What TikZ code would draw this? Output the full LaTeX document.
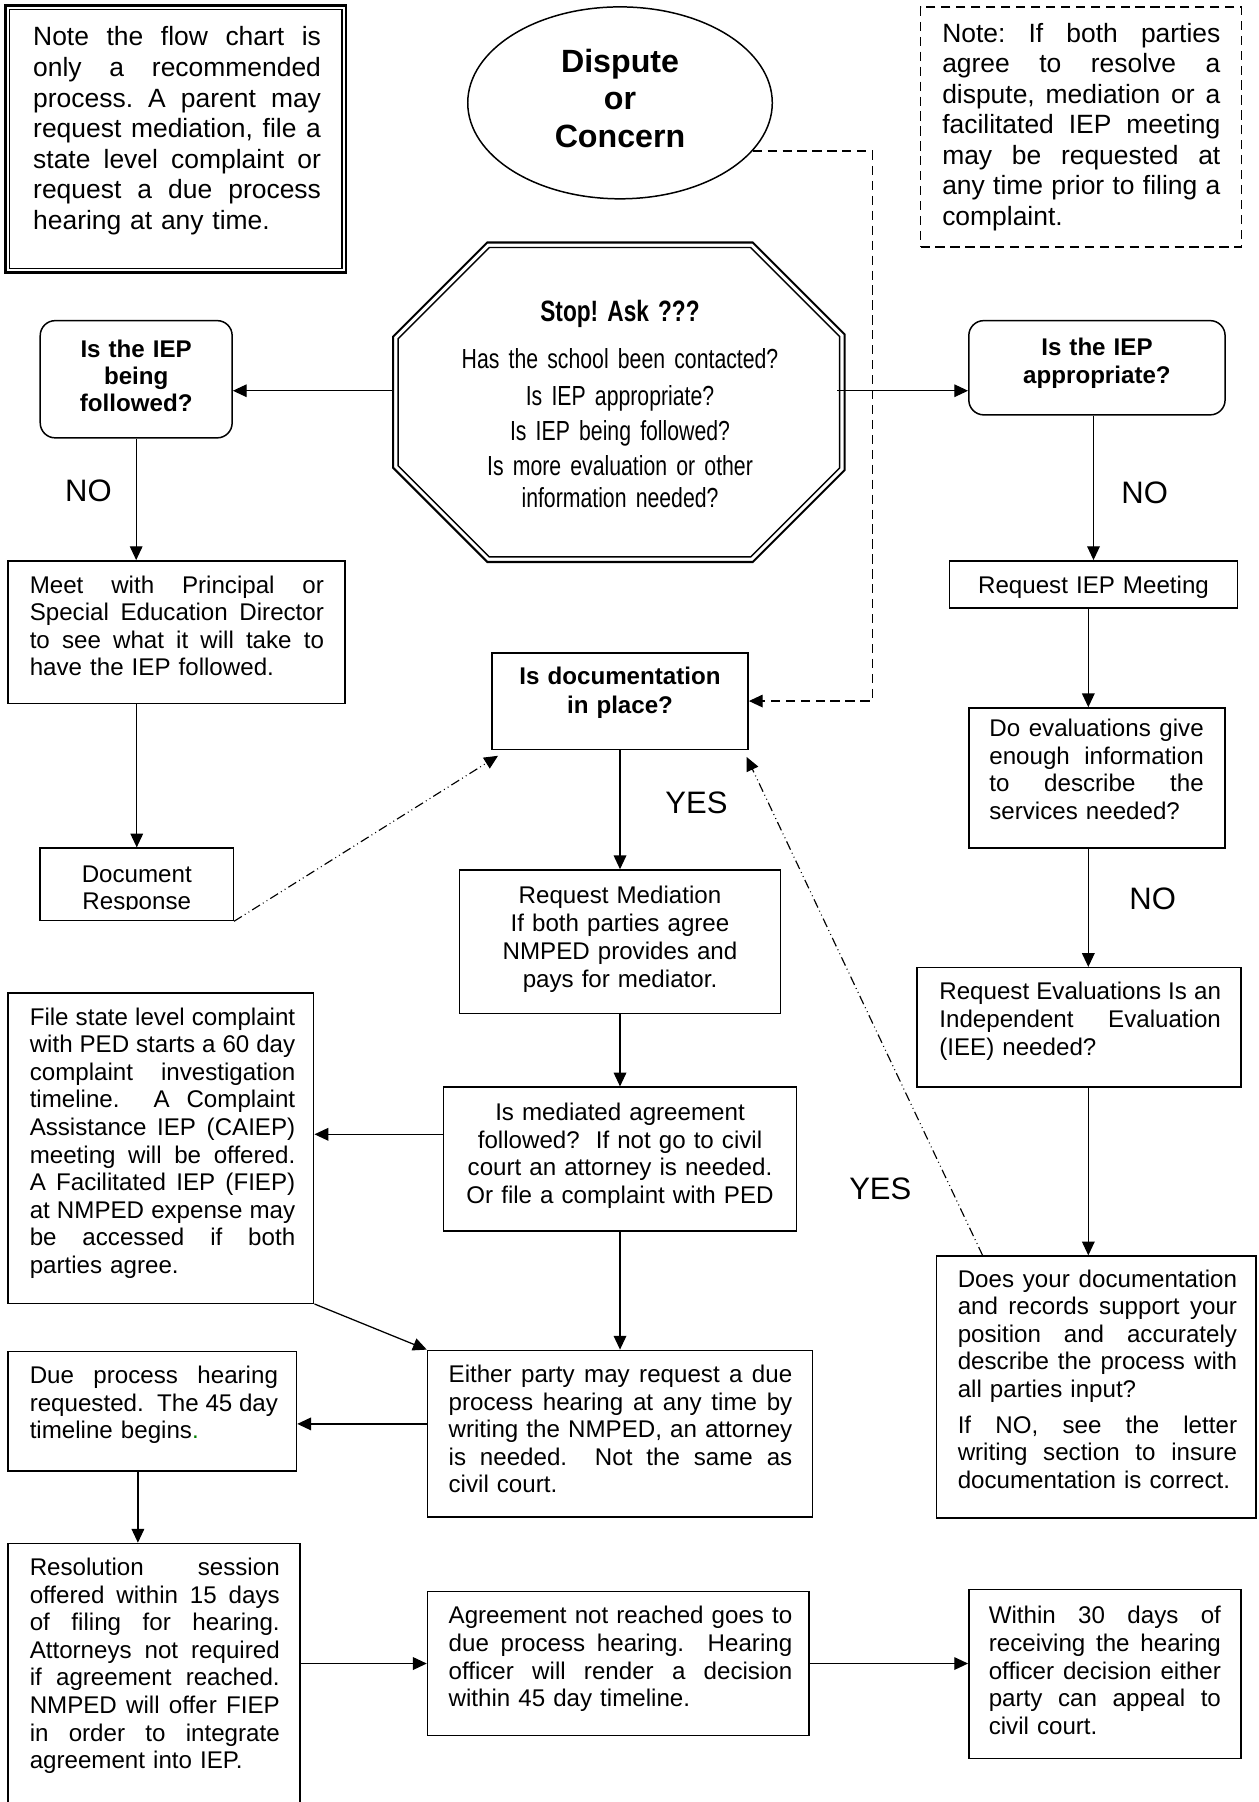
\documentclass[tikz,border=0pt]{standalone}
\usepackage{fontspec}
\setmainfont{Liberation Sans}
\newfontfamily\narrowfont[FakeStretch=0.77]{Liberation Sans}
\usetikzlibrary{arrows.meta,fit,calc,shapes.geometric}
\definecolor{dotgreen}{RGB}{0,128,0}
\def\tw{100pt}
\newcommand{\jl}[1]{\makebox[\tw][s]{\spaceskip=\fontdimen2\font plus 1fil\xspaceskip=\fontdimen2\font plus 1fil\relax #1}}
\begin{document}
\frenchspacing
\begin{tikzpicture}[x=0.5pt,y=-0.5pt,
  box/.style={draw,line width=0.65pt,inner sep=0pt},
  rbox/.style={box,rounded corners=6.5pt},
  arr/.style={line width=0.55pt,-{Triangle[length=6pt,width=5.5pt]}},
  dd/.style={line width=0.5pt,dash pattern=on 4pt off 1.5pt on 0.4pt off 1.5pt on 0.4pt off 1.5pt,-{Triangle[length=6pt,width=5.5pt]}},
  dsh/.style={line width=0.55pt,dash pattern=on 4pt off 2.5pt},
  txt/.style={inner sep=0pt,anchor=base west,font=\fontsize{10.5}{12}\selectfont},
  jt/.style={txt,text width=#1,execute at begin node={\def\tw{#1}}},
  ctxt/.style={inner sep=0pt,anchor=base,align=center,font=\fontsize{10.5}{12}\selectfont},
  lbl/.style={inner sep=0pt,font=\fontsize{13.5}{15}\selectfont}]
\useasboundingbox (0,0) rectangle (1095,1568);
\clip (0,0) rectangle (1095,1568);
\fill[white] (0,0) rectangle (1095,1568);

% ---------- boxes ----------
\node[draw,line width=1.1pt,inner sep=0pt,fit={(5,5) (301,237)}] (notea) {};
\draw[line width=0.5pt] ($(notea.north west)+(4.5,4.5)$) rectangle ($(notea.south east)+(-4.5,-4.5)$);
\node[dsh,draw,inner sep=0pt,fit={(801,6) (1080,215)}] (noteb) {};
\node[ellipse,draw,line width=0.65pt,inner sep=0pt,minimum width=132.5pt,minimum height=83.5pt] (ell) at (539.5,89.5) {};
\node[inner sep=0pt,fit={(342,211) (735,489)}] (stop) {};
\draw[line width=0.9pt] (424,211) -- (655,211) -- (735,291) -- (735,409) -- (655,489) -- (424,489) -- (342,407) -- (342,293) -- cycle;
\draw[line width=0.6pt] (425.8,215.4) -- (653.2,215.4) -- (730.6,292.8) -- (730.6,407.2) -- (653.2,484.6) -- (425.8,484.6) -- (346.4,405.2) -- (346.4,294.8) -- cycle;
\node[rbox,fit={(35,279) (202,381)}] (iepf) {};
\node[rbox,fit={(843,279) (1066,361)}] (iepa) {};
\node[box,fit={(7,488) (300,612)}] (meet) {};
\node[box,fit={(35,738) (203,801)}] (docresp) {};
\node[box,fit={(428,568) (651,652)}] (docq) {};
\node[box,fit={(400,757) (679,882)}] (medreq) {};
\node[box,fit={(386,946) (693,1071)}] (medq) {};
\node[box,fit={(7,864) (273,1134)}] (compl) {};
\node[box,fit={(372,1175) (707,1320)}] (either) {};
\node[box,fit={(7,1176) (258,1280)}] (dueproc) {};
\node[box,fit={(7,1343) (261,1600)}] (resol) {};
\node[box,fit={(372,1385) (704,1510)}] (agree) {};
\node[box,fit={(843,1383) (1080,1530)}] (within) {};
\node[box,fit={(826,488) (1077,529)}] (reqiep) {};
\node[box,fit={(843,616) (1066,738)}] (doeval) {};
\node[box,fit={(798,842) (1080,946)}] (reqeval) {};
\node[box,fit={(815,1093) (1093,1321)}] (docs) {};

% ---------- texts ----------
\node[jt=125.2pt,font=\fontsize{11.5}{13.3}\selectfont] (t-notea) at (28.5,40) {%
\jl{Note the flow chart is}\\
\jl{only a recommended}\\
\jl{process. A parent may}\\
\jl{request mediation, file a}\\
\jl{state level complaint or}\\
\jl{request a due process}\\
hearing at any time.};
\node[jt=121pt,font=\fontsize{11.5}{13.25}\selectfont] (t-noteb) at (819.5,37) {%
\jl{Note: If both parties}\\
\jl{agree to resolve a}\\
\jl{dispute, mediation or a}\\
\jl{facilitated IEP meeting}\\
\jl{may be requested at}\\
\jl{any time prior to filing a}\\
complaint.};
\node[ctxt,text width=100pt,font=\bfseries\fontsize{14}{16.25}\selectfont] (t-ell) at (539.5,63) {Dispute\\or\\Concern};
\node[ctxt,text width=180pt,font=\narrowfont\fontsize{12}{13.75}\selectfont] (t-stop) at (539.5,280) {%
{\bfseries\fontsize{12.8}{13.75}\selectfont Stop! Ask ???}\\[6.5pt]
Has the school been contacted?\\[2.25pt]
Is IEP appropriate?\\[1.5pt]
Is IEP being followed?\\[1.75pt]
Is more evaluation or other\\
information needed?};
\node[ctxt,text width=80pt,font=\bfseries\fontsize{10.5}{11.85}\selectfont] (t-iepf) at (118.5,311) {Is the IEP\\being\\followed?};
\node[ctxt,text width=100pt,font=\bfseries\fontsize{10.5}{12.25}\selectfont] (t-iepa) at (954.5,309.5) {Is the IEP\\appropriate?};
\node[jt=128pt] (t-meet) at (25.5,516) {%
\jl{Meet with Principal or}\\
\jl{Special Education Director}\\
\jl{to see what it will take to}\\
have the IEP followed.};
\begin{scope}
\clip (35,738) rectangle (203,791);
\node[ctxt,text width=80pt,font=\fontsize{10.5}{11.5}\selectfont] (t-docresp) at (119,768) {Document\\Response};
\end{scope}
\node[ctxt,text width=120pt,font=\bfseries\fontsize{10.5}{12.5}\selectfont] (t-docq) at (539.5,596) {Is documentation\\in place?};
\node[ctxt,text width=135pt,font=\fontsize{10.5}{12.2}\selectfont] (t-medreq) at (539.5,786) {Request Mediation\\If both parties agree\\NMPED provides and\\pays for mediator.};
\node[ctxt,text width=150pt] (t-medq) at (539.5,975) {Is mediated agreement\\followed?\ \ If not go to civil\\court an attorney is needed.\\Or file a complaint with PED};
\node[jt=115.5pt] (t-compl) at (25.5,892) {%
\jl{File state level complaint}\\
\jl{with PED starts a 60 day}\\
\jl{complaint investigation}\\
\jl{timeline.\ \ A Complaint}\\
\jl{Assistance IEP (CAIEP)}\\
\jl{meeting will be offered.}\\
\jl{A Facilitated IEP (FIEP)}\\
\jl{at NMPED expense may}\\
\jl{be accessed if both}\\
parties agree.};
\node[jt=149.5pt] (t-either) at (390,1203) {%
\jl{Either party may request a due}\\
\jl{process hearing at any time by}\\
\jl{writing the NMPED, an attorney}\\
\jl{is needed.\ \ Not the same as}\\
civil court.};
\node[jt=108pt] (t-dueproc) at (25.5,1204) {%
\jl{Due process hearing}\\
\jl{requested.\ \ The 45 day}\\
timeline begins{\color{dotgreen}.}};
\node[jt=108.75pt] (t-resol) at (25.5,1371) {%
\jl{Resolution session}\\
\jl{offered within 15 days}\\
\jl{of filing for hearing.}\\
\jl{Attorneys not required}\\
\jl{if agreement reached.}\\
\jl{NMPED will offer FIEP}\\
\jl{in order to integrate}\\
agreement into IEP.};
\node[jt=149.5pt] (t-agree) at (390,1413) {%
\jl{Agreement not reached goes to}\\
\jl{due process hearing.\ \ Hearing}\\
\jl{officer will render a decision}\\
within 45 day timeline.};
\node[jt=101pt] (t-within) at (860,1413) {%
\jl{Within 30 days of}\\
\jl{receiving the hearing}\\
\jl{officer decision either}\\
\jl{party can appeal to}\\
civil court.};
\node[ctxt,text width=120pt] (t-reqiep) at (951.5,516) {Request IEP Meeting};
\node[jt=93.25pt] (t-doeval) at (860.5,641) {%
\jl{Do evaluations give}\\
\jl{enough information}\\
\jl{to describe the}\\
services needed?};
\node[jt=122.5pt] (t-reqeval) at (817,870) {%
\jl{Request Evaluations Is an}\\
\jl{Independent Evaluation}\\
(IEE) needed?};
\node[jt=121.5pt] (t-docs) at (833,1120) {%
\jl{Does your documentation}\\
\jl{and records support your}\\
\jl{position and accurately}\\
\jl{describe the process with}\\
all parties input?\\[3.5pt]
\jl{If NO, see the letter}\\
\jl{writing section to insure}\\
documentation is correct.};

% ---------- labels ----------
\node[lbl] (no1) at (77,427.5) {NO};
\node[lbl] (no2) at (996,429) {NO};
\node[lbl] (no3) at (1003,782.5) {NO};
\node[lbl] (yes1) at (606,698.5) {YES};
\node[lbl] (yes2) at (766,1034) {YES};

% ---------- helper coordinates ----------
\coordinate (yl) at (0,340);
\coordinate (ym) at (0,987);
\coordinate (ye) at (0,1239);
\coordinate (xa) at (120,0);
\coordinate (xr) at (947,0);
\coordinate (dv) at (759,0);
\coordinate (dx) at (855,0);

% ---------- connectors ----------
\draw[arr] (stop.west |- yl) -- (iepf.east |- yl);
\draw[arr] ($(stop.east |- yl)+(-7,0)$) -- (iepa.west |- yl);
\draw[arr] (iepf.south) -- (meet.north -| iepf.south);
\draw[arr] (meet.south -| docresp.north) -- (docresp.north);
\draw[dd] (docresp.south east) -- ($(docq.south west)+(6,5)$);
\draw[dsh,-{Triangle[length=6pt,width=5.5pt]}] (ell.-20.4) -- (ell.-20.4 -| dv) -- (dv |- docq.east) -- (docq.east);
\draw[arr] (docq.south) -- (medreq.north);
\draw[arr] (medreq.south) -- (medq.north);
\draw[arr] (medq.west |- ym) -- (compl.east |- ym);
\draw[arr] (compl.south east) -- (either.north west);
\draw[arr] (medq.south) -- (either.north -| medq.south);
\draw[arr] (either.west |- ye) -- (dueproc.east |- ye);
\draw[arr] (dueproc.south -| xa) -- (resol.north -| xa);
\draw[arr] (resol.east |- agree.west) -- (agree.west);
\draw[arr] (agree.east) -- (within.west |- agree.east);
\draw[arr] (iepa.south -| reqiep.north) -- (reqiep.north);
\draw[arr] (reqiep.south -| xr) -- (doeval.north -| xr);
\draw[arr] (doeval.south -| xr) -- (reqeval.north -| xr);
\draw[arr] (reqeval.south -| xr) -- (docs.north -| xr);
\draw[dd] (docs.north -| dx) -- ($(docq.south east)+(-2,6)$);
\end{tikzpicture}
\end{document}
